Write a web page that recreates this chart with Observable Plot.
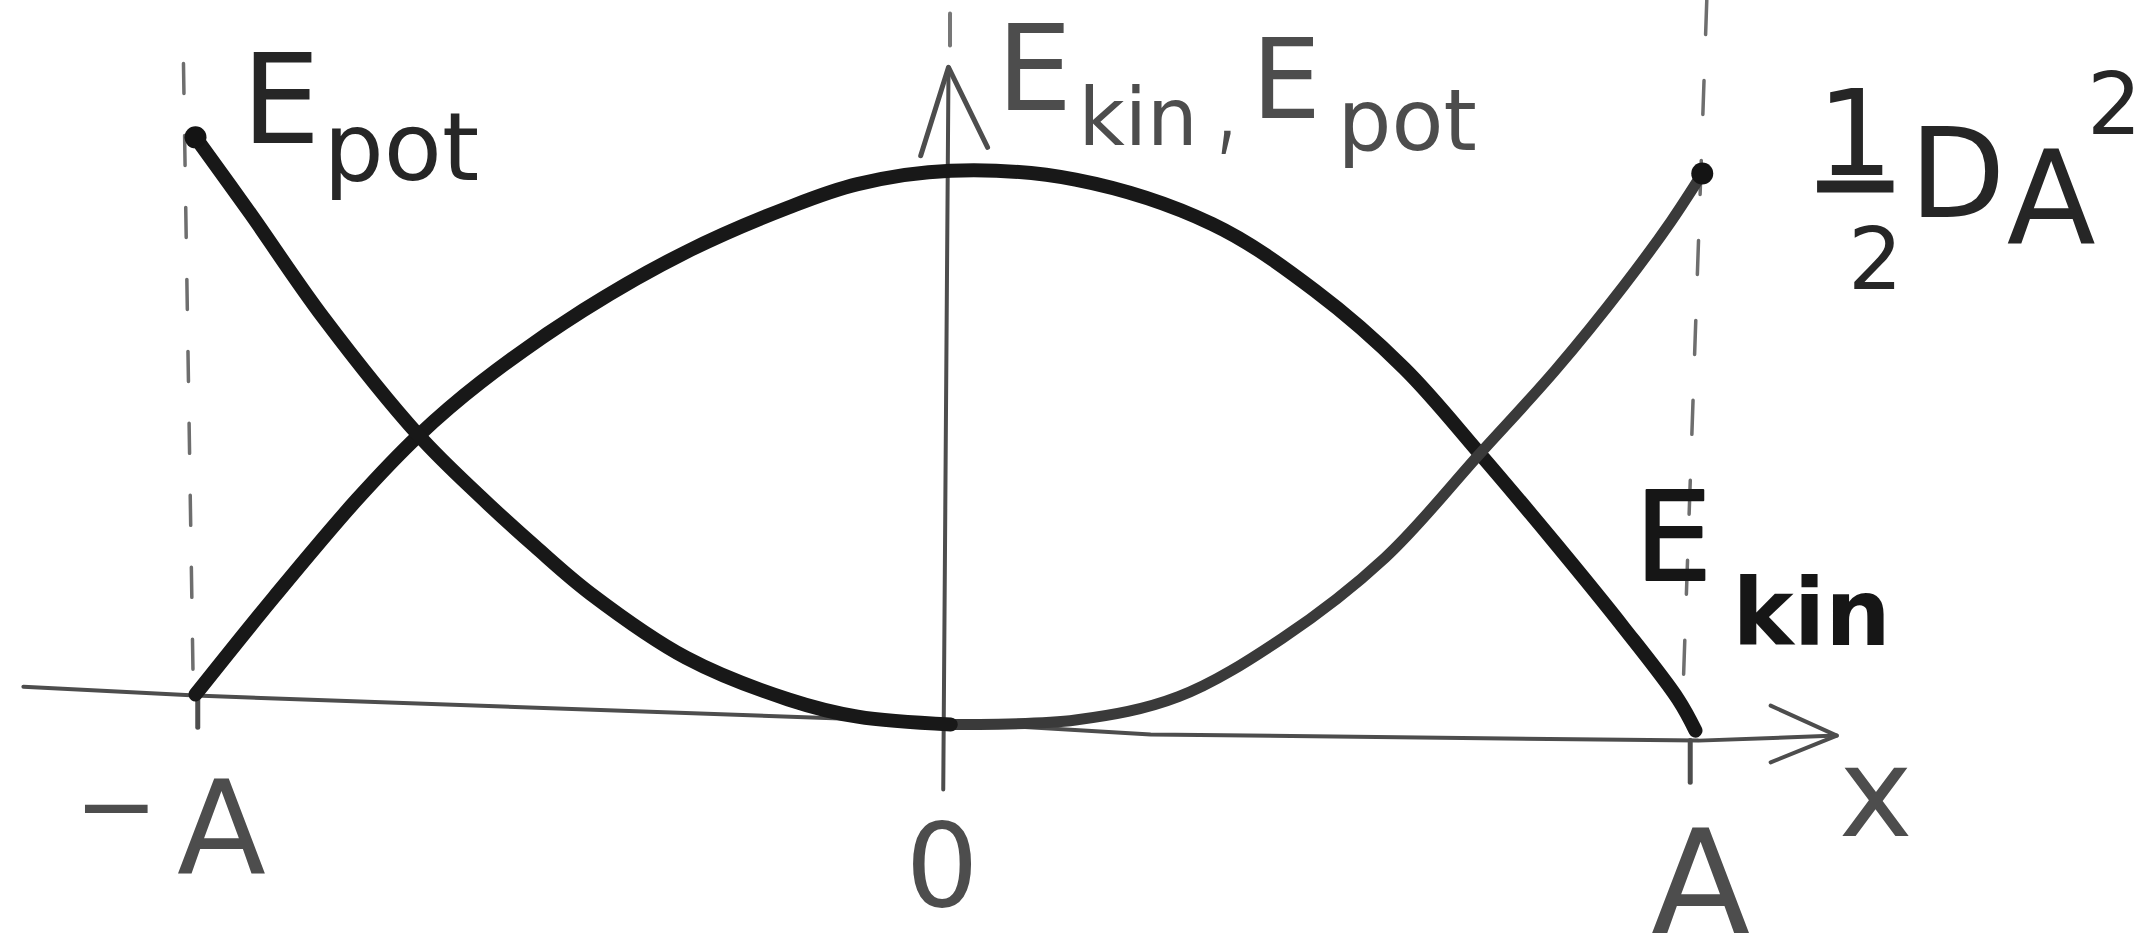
<!DOCTYPE html>
<html>
<head>
<meta charset="utf-8">
<script src="https://cdn.jsdelivr.net/npm/d3@7"></script>
<script src="https://cdn.jsdelivr.net/npm/@observablehq/plot@0.6"></script>
<style>
  html, body { margin: 0; padding: 0; background: #fff; overflow: hidden; }
  #chart svg { display: block; }
  /* fraction bar of ½ drawn as the numerator's underline */
  #chart text[aria-label="numerator"] {
    text-decoration: underline;
    text-decoration-thickness: 8px;
    text-underline-offset: 12px;
  }
</style>
</head>
<body>
<div id="chart"></div>
<script>
// Elongation x in units of the amplitude A (−A … A), energy in units of ½DA².
const potX = [-1.000, -0.927, -0.830, -0.703, -0.621, -0.548, -0.474, -0.347, -0.211, -0.119, 0.005, 0.171, 0.308, 0.446, 0.583, 0.709, 0.810, 0.900, 0.964, 1.005];
const potE = [ 1.056,  0.919,  0.732,  0.520,  0.410,  0.320,  0.235,  0.120,  0.045,  0.014, 0.000, 0.008, 0.050, 0.155, 0.300, 0.487, 0.638, 0.788, 0.906, 0.991];
const kinX = [-1.000, -0.895, -0.785, -0.703, -0.621, -0.484, -0.347, -0.211, -0.119, 0.005, 0.171, 0.353, 0.490, 0.609, 0.709, 0.810, 0.900, 0.973, 0.996];
const kinE = [ 0.054,  0.230,  0.405,  0.520,  0.615,  0.745,  0.850,  0.930,  0.972, 0.996, 0.980, 0.900, 0.780, 0.640, 0.487, 0.325, 0.175, 0.045, -0.011];

// Hand-drawn axes (slightly tilted baseline)
const xAxisX = [-1.229, -1.000, 0.000, 0.271, 1.000, 1.184];
const xAxisE = [ 0.068,  0.052, 0.004, -0.018, -0.029, -0.020];
const xArrowX = [1.096, 1.184, 1.096];
const xArrowE = [0.034, -0.020, -0.068];
const yAxisX = [-0.005, 0.002];
const yAxisE = [-0.117, 1.182];
const yArrowX = [-0.035, 0.002, 0.054];
const yArrowE = [1.023, 1.182, 1.038];
const yAxisTopX = [0.004, 0.004];
const yAxisTopE = [1.279, 1.221];

// Turning points ±A: dashed guides and ticks
const leftGuideX = [-1.016, -1.003];
const leftGuideE = [1.189, 0.065];
const rightGuideX = [1.011, 0.979];
const rightGuideE = [1.302, 0.043];
const tickLeftX = [-0.997, -0.997];
const tickLeftE = [0.049, -0.005];
const tickRightX = [0.989, 0.989];
const tickRightE = [-0.029, -0.104];

// Tick labels along x
const tickValues = [-1, 0, 1];
const tickLabels = ["A", "0", "A"];

const rows = (xs, ys) => xs.map((x, i) => ({x, y: ys[i]}));
const pot = rows(potX, potE);
const kin = rows(kinX, kinE);
const potLeft = pot.filter(d => d.x <= 0.005);
const potRight = pot.filter(d => d.x >= 0.005);
const potFirst = pot[0];
const potLast = pot[pot.length - 1];
const kinLast = kin[kin.length - 1];
const yTip = {x: yAxisX[1], y: yAxisE[1]};
const xTip = {x: xArrowX[1], y: xArrowE[1]};
const tick = i => ({x: tickValues[i], y: 0});

const font = "DejaVu Sans";
const ink = "#262626";
const pencil = "#4d4d4d";

// One piece of handwritten lettering, anchored to a point of the drawing
function word(anchor, text, dx, dy, size, opts = {}) {
  return Plot.text([anchor], {
    x: "x", y: "y", text: () => text, dx, dy,
    fontSize: size, fontFamily: font, lineAnchor: "bottom",
    textAnchor: opts.anchor || "start", fill: opts.fill || ink,
    fontWeight: opts.weight || "normal",
    stroke: opts.stroke || null, strokeWidth: opts.strokeWidth || 0,
    ariaLabel: opts.label ? () => opts.label : undefined
  });
}

const thinLine = (data, o = {}) => Plot.line(data, {x: "x", y: "y", stroke: pencil, strokeWidth: 4, strokeLinecap: "round", ...o});
const curve = (data, o = {}) => Plot.line(data, {x: "x", y: "y", curve: "catmull-rom", stroke: "#181818", strokeWidth: 14, strokeLinecap: "round", strokeLinejoin: "round", ...o});

const chart = Plot.plot({
  width: 2150,
  height: 934,
  margin: 0,
  style: {background: "#fff", fontFamily: font},
  x: {domain: [-1, 1], range: [195, 1698], axis: null},
  y: {domain: [0, 1], range: [724, 168], axis: null},
  marks: [
    // guides at ±A
    thinLine(rows(leftGuideX, leftGuideE), {stroke: "#6e6e6e", strokeWidth: 3.5, strokeDasharray: "30,42"}),
    thinLine(rows(rightGuideX, rightGuideE), {stroke: "#6e6e6e", strokeWidth: 3.5, strokeDasharray: "34,46"}),
    // axes
    thinLine(rows(xAxisX, xAxisE)),
    thinLine(rows(xArrowX, xArrowE), {strokeLinejoin: "round"}),
    thinLine(rows(yAxisX, yAxisE)),
    thinLine(rows(yArrowX, yArrowE), {strokeLinejoin: "round", strokeWidth: 5}),
    thinLine(rows(yAxisTopX, yAxisTopE), {stroke: "#777"}),
    thinLine(rows(tickLeftX, tickLeftE), {strokeWidth: 5}),
    thinLine(rows(tickRightX, tickRightE), {strokeWidth: 5}),
    // energy curves
    curve(kin),
    curve(potRight, {stroke: "#3a3a3a", strokeWidth: 11}),
    curve(potLeft),
    Plot.dot([potFirst, potLast], {x: "x", y: "y", r: 11, fill: "#141414"}),
    // E_pot next to the left end point
    word(potFirst, "E", 46, 6, 125),
    word(potFirst, "pot", 128, 43, 95),
    // y-axis title: E_kin, E_pot
    word(yTip, "E", 48, 43, 120, {fill: pencil}),
    word(yTip, "kin", 130, 78, 80, {fill: pencil}),
    word(yTip, ",", 279, 72, 130, {fill: pencil, anchor: "middle", weight: 200}),
    word(yTip, "E", 303, 51, 110, {fill: pencil}),
    word(yTip, "pot", 389, 83, 85, {fill: pencil}),
    // ½DA² at the right end point
    word(potLast, "1", 153, 1, 120, {anchor: "middle", label: "numerator"}),
    word(potLast, "2", 173, 115, 86, {anchor: "middle"}),
    word(potLast, "D", 207, 43, 125),
    word(potLast, "A", 349, 69, 130, {anchor: "middle"}),
    word(potLast, "2", 412, -40, 86, {anchor: "middle"}),
    // E_kin near the right end of the kinetic curve
    word(kinLast, "E", -61, -151, 123, {fill: "#161616", stroke: "#161616", strokeWidth: 2}),
    word(kinLast, "kin", 37, -86, 92, {fill: "#161616", weight: "bold"}),
    // axis name
    word(xTip, "x", 39, 100, 125, {anchor: "middle", fill: pencil}),
    // tick labels −A, 0, A
    word(tick(0), "−", -79, 115, 100, {anchor: "middle", fill: pencil}),
    word(tick(0), tickLabels[0], 26, 148, 130, {anchor: "middle", fill: pencil}),
    word(tick(1), tickLabels[1], -5, 181, 115, {anchor: "middle", fill: pencil}),
    word(tick(2), tickLabels[2], 2, 208, 145, {anchor: "middle", fill: pencil})
  ]
});

document.getElementById("chart").appendChild(chart);
</script>
</body>
</html>
